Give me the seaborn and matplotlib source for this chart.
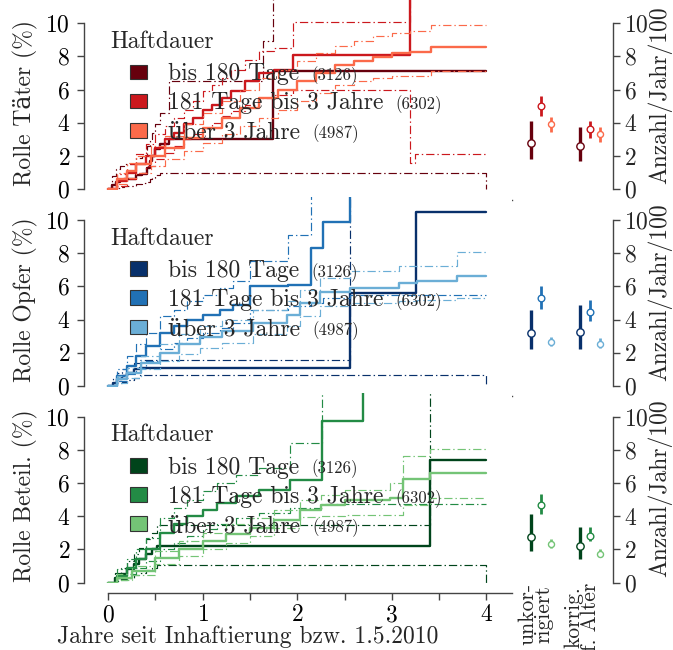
import numpy as np
import pandas as pd
import matplotlib
matplotlib.use("Agg")
import matplotlib.pyplot as plt
import matplotlib.transforms as mtransforms
from matplotlib.patches import Patch
import seaborn as sns

# ---------------------------------------------------------------- data
GROUPS = ["bis 180 Tage", "181 Tage bis 3 Jahre", "über 3 Jahre"]
GROUP_N = ["(3126)", "(6302)", "(4987)"]
ROLES = ["Rolle Täter (%)", "Rolle Opfer (%)", "Rolle Beteil. (%)"]
RATE_LABELS = ["unkor-\nrigiert", "korrig.\nf. Alter"]
PALETTES = [
    ["#67000d", "#cb181d", "#fb6a4a"],
    ["#08306b", "#2171b5", "#6baed6"],
    ["#00441b", "#238b45", "#74c476"],
]

# cumulative incidence (%) with lower / upper confidence limits, step functions
# Rolle Täter
TAE1_T = [0, 0.04, 0.08, 0.13, 0.17, 0.30, 0.36, 0.41, 0.44, 0.47, 0.50, 0.55, 0.64, 1.64, 1.74, 4.0]
TAE1_EST = [0, 0.25, 0.45, 0.55, 0.6, 0.85, 0.9, 1.3, 1.7, 2.0, 2.4, 2.7, 3.0, 3.0, 7.1, 7.1]
TAE1_LO = [0, 0.05, 0.1, 0.15, 0.2, 0.3, 0.35, 0.45, 0.6, 0.7, 0.85, 0.96, 0.96, 0.96, 0.96, 0.0]
TAE1_HI = [0, 0.8, 1.2, 1.4, 1.5, 1.9, 2.0, 2.6, 3.0, 3.4, 3.9, 4.6, 6.5, 8.9, 12.0, 12.0]

TAE2_T = [0, 0.1, 0.2, 0.3, 0.4, 0.5, 0.6, 0.7, 0.8, 0.9, 1.0, 1.1, 1.2, 1.3, 1.45, 1.6, 1.75, 1.95, 3.19, 3.24, 4.0]
TAE2_EST = [0, 0.5, 1.0, 1.5, 2.0, 2.5, 3.0, 3.4, 3.9, 4.3, 4.8, 5.1, 5.5, 5.9, 6.5, 7.0, 7.2, 8.1, 12.0, 12.0, 12.0]
TAE2_LO = [0, 0.2, 0.6, 1.0, 1.4, 1.8, 2.2, 2.6, 3.0, 3.3, 3.7, 4.0, 4.4, 4.7, 5.1, 5.5, 5.7, 6.0, 1.6, 2.15, 2.15]
TAE2_HI = [0, 0.9, 1.5, 2.1, 2.7, 3.3, 3.8, 4.3, 4.8, 5.3, 5.9, 6.3, 6.7, 7.2, 7.8, 8.3, 8.5, 10.1, 12.0, 12.0, 12.0]

TAE3_T = [0, 0.1, 0.2, 0.3, 0.45, 0.6, 0.8, 1.0, 1.2, 1.4, 1.6, 1.8, 2.0, 2.2, 2.4, 2.6, 2.8, 3.0, 3.19, 3.41, 4.0]
TAE3_EST = [0, 0.6, 1.1, 1.5, 2.0, 2.5, 3.1, 3.7, 4.3, 4.9, 5.5, 6.0, 6.5, 7.0, 7.5, 7.75, 7.95, 8.2, 8.27, 8.55, 8.55]
TAE3_LO = [0, 0.3, 0.7, 1.0, 1.4, 1.8, 2.3, 2.8, 3.3, 3.8, 4.3, 4.8, 5.3, 5.8, 6.3, 6.5, 6.7, 6.8, 6.8, 7.1, 7.1]
TAE3_HI = [0, 1.0, 1.6, 2.0, 2.6, 3.2, 3.9, 4.6, 5.3, 6.0, 6.7, 7.2, 7.7, 8.2, 8.6, 8.9, 9.2, 9.4, 9.5, 9.9, 9.9]

# Rolle Opfer
OPF1_T = [0, 0.05, 0.1, 0.15, 0.2, 0.27, 0.34, 2.56, 3.26, 4.0]
OPF1_EST = [0, 0.2, 0.4, 0.6, 0.8, 1.0, 1.1, 5.6, 10.5, 10.5]
OPF1_LO = [0, 0.05, 0.15, 0.25, 0.35, 0.5, 0.66, 0.66, 0.66, 0.0]
OPF1_HI = [0, 0.5, 0.8, 1.0, 1.2, 1.4, 1.57, 12.0, 12.0, 12.0]

OPF2_T = [0, 0.1, 0.2, 0.3, 0.4, 0.55, 0.7, 0.83, 1.0, 1.18, 1.32, 1.5, 1.9, 2.15, 2.27, 2.56, 4.0]
OPF2_EST = [0, 0.6, 1.2, 1.8, 2.4, 3.2, 3.6, 4.0, 4.3, 4.6, 4.9, 6.0, 6.1, 8.3, 9.9, 12.0, 12.0]
OPF2_LO = [0, 0.3, 0.7, 1.1, 1.5, 2.2, 2.6, 2.9, 3.2, 3.5, 3.8, 4.6, 4.8, 5.0, 5.3, 5.45, 5.45]
OPF2_HI = [0, 1.0, 1.8, 2.5, 3.2, 4.2, 4.6, 5.1, 5.5, 5.9, 6.3, 7.5, 9.1, 12.0, 12.0, 12.0, 12.0]

OPF3_T = [0, 0.1, 0.2, 0.35, 0.55, 0.75, 0.97, 1.2, 1.53, 1.89, 2.03, 2.24, 2.56, 3.08, 3.27, 3.69, 4.0]
OPF3_EST = [0, 0.4, 0.8, 1.4, 2.0, 2.5, 2.95, 3.3, 3.8, 4.3, 5.0, 5.66, 5.9, 6.2, 6.3, 6.65, 6.65]
OPF3_LO = [0, 0.2, 0.5, 1.0, 1.5, 1.9, 2.3, 2.6, 3.1, 3.6, 4.2, 4.8, 5.0, 5.1, 5.2, 5.3, 5.3]
OPF3_HI = [0, 0.6, 1.1, 1.8, 2.5, 3.1, 3.6, 4.0, 4.6, 5.1, 5.8, 6.5, 6.9, 7.2, 7.2, 8.05, 8.05]

# Rolle Beteil.
BET1_T = [0, 0.07, 0.14, 0.2, 0.27, 0.33, 0.4, 0.46, 0.52, 3.4, 4.0]
BET1_EST = [0, 0.3, 0.5, 0.8, 1.1, 1.4, 1.7, 2.0, 2.22, 7.4, 7.4]
BET1_LO = [0, 0.1, 0.2, 0.3, 0.45, 0.6, 0.75, 0.9, 1.06, 1.06, 0.0]
BET1_HI = [0, 0.6, 0.9, 1.3, 1.7, 2.1, 2.6, 3.0, 3.47, 12.0, 12.0]

BET2_T = [0, 0.1, 0.2, 0.3, 0.4, 0.55, 0.7, 0.83, 1.0, 1.15, 1.35, 1.6, 1.92, 2.26, 2.7, 4.0]
BET2_EST = [0, 0.4, 0.9, 1.4, 2.0, 3.0, 3.5, 4.0, 4.4, 4.8, 5.2, 5.6, 6.2, 9.76, 12.0, 12.0]
BET2_LO = [0, 0.15, 0.5, 0.9, 1.3, 2.0, 2.4, 2.8, 3.2, 3.5, 3.9, 4.2, 4.5, 4.74, 4.74, 4.74]
BET2_HI = [0, 0.8, 1.4, 2.0, 2.7, 3.9, 4.5, 5.0, 5.5, 6.0, 6.5, 6.9, 8.4, 12.0, 12.0, 12.0]

BET3_T = [0, 0.1, 0.25, 0.5, 0.75, 1.0, 1.25, 1.5, 1.75, 2.03, 2.25, 2.5, 2.98, 3.12, 3.4, 4.0]
BET3_EST = [0, 0.3, 0.7, 1.5, 2.0, 2.5, 2.9, 3.3, 3.8, 4.4, 4.7, 5.0, 5.1, 6.25, 6.6, 6.6]
BET3_LO = [0, 0.15, 0.45, 1.1, 1.6, 2.0, 2.4, 2.8, 3.3, 3.95, 4.0, 4.05, 4.1, 4.65, 5.1, 5.1]
BET3_HI = [0, 0.5, 1.0, 1.9, 2.5, 3.0, 3.5, 3.9, 4.4, 5.0, 5.3, 5.6, 6.0, 7.65, 8.05, 8.05]

# rates per year (per 100), order: unkorrigiert (3 groups), korrigiert (3 groups)
RATE_TAE_EST = [2.8, 5.0, 3.9, 2.6, 3.6, 3.3]
RATE_TAE_LO = [1.8, 4.4, 3.45, 1.7, 3.1, 2.85]
RATE_TAE_HI = [4.1, 5.6, 4.35, 3.75, 4.1, 3.75]
RATE_OPF_EST = [3.2, 5.27, 2.62, 3.23, 4.44, 2.53]
RATE_OPF_LO = [2.2, 4.65, 2.38, 2.2, 3.9, 2.3]
RATE_OPF_HI = [4.56, 6.0, 2.95, 4.87, 5.15, 2.9]
RATE_BET_EST = [2.75, 4.65, 2.35, 2.2, 2.78, 1.75]
RATE_BET_LO = [1.9, 4.15, 2.1, 1.45, 2.5, 1.55]
RATE_BET_HI = [4.12, 5.35, 2.62, 3.37, 3.34, 2.05]

CURVES = [
    [(TAE1_T, TAE1_EST, TAE1_LO, TAE1_HI), (TAE2_T, TAE2_EST, TAE2_LO, TAE2_HI), (TAE3_T, TAE3_EST, TAE3_LO, TAE3_HI)],
    [(OPF1_T, OPF1_EST, OPF1_LO, OPF1_HI), (OPF2_T, OPF2_EST, OPF2_LO, OPF2_HI), (OPF3_T, OPF3_EST, OPF3_LO, OPF3_HI)],
    [(BET1_T, BET1_EST, BET1_LO, BET1_HI), (BET2_T, BET2_EST, BET2_LO, BET2_HI), (BET3_T, BET3_EST, BET3_LO, BET3_HI)],
]
RATES = [
    (RATE_TAE_EST, RATE_TAE_LO, RATE_TAE_HI),
    (RATE_OPF_EST, RATE_OPF_LO, RATE_OPF_HI),
    (RATE_BET_EST, RATE_BET_LO, RATE_BET_HI),
]

# ---------------------------------------------------------------- style
sns.set_theme(style="ticks")
plt.rcParams["font.family"] = ["cmr10", "DejaVu Serif"]
plt.rcParams["axes.formatter.use_mathtext"] = True
plt.rcParams["axes.unicode_minus"] = False
FS = 17
SPINE = "#444444"
DASH = (7, 2.5, 1.2, 2.5)

W, H = 673, 650
fig = plt.figure(figsize=(W / 100, H / 100), dpi=100)

YMIN, YMAX = -0.05, 11.4
SCALE = 16.6          # pixels per percent
PITCH = 196.7         # vertical distance between panels (px)

left_axes = []
for k in range(3):
    zero_px = 189.2 + PITCH * k
    top_px = zero_px - YMAX * SCALE
    bot_px = zero_px - YMIN * SCALE
    b, h = 1 - bot_px / H, (bot_px - top_px) / H
    ax = fig.add_axes([84 / W, b, 428 / W, h])
    axr = fig.add_axes([520 / W, b, 93 / W, h])
    pal = PALETTES[k]

    rows = []
    for g, (t, est, lo, hi) in enumerate(CURVES[k]):
        for kind, vals in (("est", est), ("lo", lo), ("hi", hi)):
            for ti, vi in zip(t, vals):
                rows.append((GROUPS[g], kind, ti, vi))
    df = pd.DataFrame(rows, columns=["Haftdauer", "kind", "t", "v"])
    sns.lineplot(
        data=df, x="t", y="v", hue="Haftdauer", hue_order=GROUPS, palette=pal,
        style="kind", style_order=["est", "lo", "hi"],
        dashes={"est": "", "lo": DASH, "hi": DASH},
        size="kind", size_order=["est", "lo", "hi"],
        sizes={"est": 1.7, "lo": 0.85, "hi": 0.85},
        estimator=None, drawstyle="steps-post", legend=False, ax=ax,
    )

    ax.set_xlim(-0.254, 4.27)
    ax.set_ylim(YMIN, YMAX)
    for s in ("top", "right"):
        ax.spines[s].set_visible(False)
    ax.spines["bottom"].set_position(("outward", 7))
    ax.spines["bottom"].set_bounds(0, 4.27)
    ax.spines["left"].set_bounds(0, 10)
    for s in ("bottom", "left"):
        ax.spines[s].set_color(SPINE)
        ax.spines[s].set_linewidth(1.0)
    ax.set_xticks([0, 1, 2, 3, 4])
    ax.set_xticks([0.5, 1.5, 2.5, 3.5], minor=True)
    ax.set_yticks([0, 2, 4, 6, 8, 10])
    ax.tick_params(axis="both", which="both", direction="out", length=5, width=1.0,
                   color=SPINE, labelsize=FS, labelcolor="black")
    ax.tick_params(axis="y", pad=5)
    ax.tick_params(axis="x", pad=3)
    ax.set_xlabel("")
    ax.set_ylabel(ROLES[k], fontsize=FS)
    ax.yaxis.set_label_coords(-0.107, 0.46)
    if k < 2:
        ax.tick_params(axis="x", labelbottom=False)

    # legend
    handles = [Patch(facecolor=c, edgecolor="#333333", linewidth=0.8) for c in pal]
    ax.text(0.0607, 0.747, "Haftdauer", transform=ax.transAxes, fontsize=FS,
            va="baseline", ha="left")
    leg = ax.legend(handles, GROUPS, loc="upper left", bbox_to_anchor=(0.1075, 0.668),
                    frameon=False, fontsize=FS, handlelength=0.72, handleheight=0.58,
                    handletextpad=0.9, labelspacing=0.3, borderpad=0, borderaxespad=0)

    # yearly rates
    est, lo, hi = RATES[k]
    offs = [-0.2, 0.0, 0.2]
    lws = [2.4, 2.0, 2.0]
    mss = [28, 23, 19]
    for i in range(6):
        grp, g = divmod(i, 3)
        axr.vlines(grp + offs[g], lo[i], hi[i], color=pal[g], lw=lws[g], zorder=2)
    rdf = pd.DataFrame({
        "x": [divmod(i, 3)[0] + offs[i % 3] for i in range(6)],
        "y": est,
        "g": [GROUPS[i % 3] for i in range(6)],
    })
    for g in range(3):
        sub = rdf[rdf["g"] == GROUPS[g]]
        sns.scatterplot(data=sub, x="x", y="y", s=mss[g], facecolor="white",
                        edgecolor=pal[g], linewidth=1.0, zorder=3, ax=axr, legend=False)
    axr.set_xlim(-0.43, 1.47)
    axr.set_ylim(YMIN, YMAX)
    for s in ("top", "left", "bottom"):
        axr.spines[s].set_visible(False)
    axr.spines["right"].set_bounds(0, 10)
    axr.spines["right"].set_color(SPINE)
    axr.spines["right"].set_linewidth(1.0)
    axr.yaxis.tick_right()
    axr.yaxis.set_label_position("right")
    axr.set_yticks([0, 2, 4, 6, 8, 10])
    axr.tick_params(axis="y", direction="out", length=5, width=1.0, color=SPINE,
                    labelsize=FS, pad=3)
    axr.set_ylabel("Anzahl/Jahr/100", fontsize=FS)
    axr.yaxis.set_label_coords(1.37, 0.5)
    axr.set_xticks([])
    axr.set_xlabel("")
    if k == 2:
        # group captions under the rate columns, written upwards
        cap = mtransforms.blended_transform_factory(axr.transData, axr.transAxes)
        for gx, (label, dx) in enumerate(zip(RATE_LABELS, (-0.12, -0.16))):
            axr.text(gx + dx, 0.004, label, transform=cap, rotation=90, fontsize=15.5,
                     va="top", ha="center", multialignment="center", linespacing=0.78,
                     clip_on=False)
    left_axes.append((ax, leg))

fig.text(248 / W, 1 - 637 / H, "Jahre seit Inhaftierung bzw. 1.5.2010",
         fontsize=FS, ha="center", va="center")

# sample sizes in small print after each legend entry
fig.canvas.draw()
renderer = fig.canvas.get_renderer()
for ax, leg in left_axes:
    for txt, n in zip(leg.get_texts(), GROUP_N):
        bb = txt.get_window_extent(renderer)
        d = renderer.get_text_width_height_descent("lp", txt.get_fontproperties(), ismath=False)[2]
        fig.text(bb.x1 + 12, bb.y0 + d, n, fontsize=12, va="baseline", ha="left",
                 transform=mtransforms.IdentityTransform())

fig.savefig("out.png", dpi=100)
